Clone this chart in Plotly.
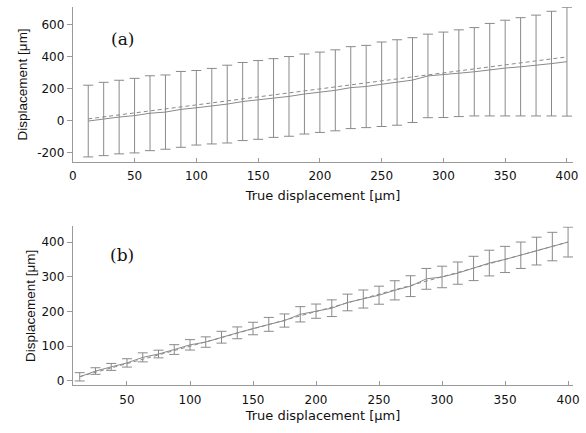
import plotly.graph_objects as go

true_disp = [12.5 * k for k in range(1, 33)]

a_mean = [-1, 12, 24, 33, 48, 55, 72, 82, 92, 105, 121, 131, 143, 153, 168, 179,
          191, 208, 215, 229, 240, 255, 281, 288, 298, 307, 320, 330, 338, 346, 358, 370]
a_sd = [224, 229, 230, 233, 234, 232, 237, 233, 236, 243, 244, 246, 246, 249, 250, 251,
        253, 256, 257, 264, 267, 265, 261, 267, 271, 276, 289, 299, 307, 315, 327, 340]

b_mean = [12, 28.6, 40.5, 52, 68, 77.6, 90.5, 104, 112, 126, 138.6, 151, 163, 174, 192, 201,
          209.5, 226, 236, 247, 261, 273, 294, 299.5, 310.5, 324, 339.5, 350, 362, 374, 387, 400]
b_sd = [12, 9.5, 10, 12, 13, 11, 14, 15, 15, 17, 17, 18, 20, 19, 22, 20.5,
        24, 24, 26, 26, 27.6, 30, 30, 31, 32, 35, 37, 37.6, 38, 40, 41, 43]

a_yticks = [-200, 0, 200, 400, 600]
a_ytext = ["-200", "0", "200", "400", "600"]
a_xticks = [0, 50, 100, 150, 200, 250, 300, 350, 400]
b_yticks = [0, 100, 200, 300, 400]
b_xticks = [50, 100, 150, 200, 250, 300, 350, 400]

GRAY = "#8a8a8a"
AXC = "#9a9a9a"
TXT = "#111111"
SANS_WIDE = "DejaVu Sans, Verdana, sans-serif"
SANS = "Liberation Sans, Arial, sans-serif"

fig = go.Figure()

# panel (a)
fig.add_trace(go.Scatter(x=true_disp, y=true_disp, mode="lines",
                         line=dict(color=GRAY, width=1, dash="4px,3px"),
                         xaxis="x", yaxis="y", showlegend=False, hoverinfo="skip"))
fig.add_trace(go.Scatter(x=true_disp, y=a_mean, mode="lines",
                         line=dict(color=GRAY, width=1),
                         error_y=dict(type="data", array=a_sd, visible=True,
                                      color=GRAY, thickness=1, width=5),
                         xaxis="x", yaxis="y", showlegend=False))

# panel (b)
fig.add_trace(go.Scatter(x=true_disp, y=true_disp, mode="lines",
                         line=dict(color=GRAY, width=1, dash="4px,3px"),
                         xaxis="x2", yaxis="y2", showlegend=False, hoverinfo="skip"))
fig.add_trace(go.Scatter(x=true_disp, y=b_mean, mode="lines",
                         line=dict(color=GRAY, width=1),
                         error_y=dict(type="data", array=b_sd, visible=True,
                                      color=GRAY, thickness=1, width=5),
                         xaxis="x2", yaxis="y2", showlegend=False))

W, H = 586, 433
xdom = [70 / W, 579 / W]
tickfont = dict(family=SANS_WIDE, size=12, color=TXT)
xax_common = dict(showline=True, linecolor=AXC, linewidth=1, showgrid=False,
                  zeroline=False, ticks="inside", ticklen=4, tickcolor=AXC, tickfont=tickfont)
yax_common = dict(showline=True, linecolor=AXC, linewidth=1, showgrid=False,
                  zeroline=False, ticks="outside", ticklen=5, tickcolor=AXC, tickfont=tickfont)
xtitle_font = dict(family=SANS_WIDE, size=13, color=TXT)
ytitle_font = dict(family=SANS, size=13.5, color=TXT)

fig.update_layout(
    width=W, height=H,
    margin=dict(l=0, r=0, t=0, b=0),
    paper_bgcolor="white", plot_bgcolor="white",
    xaxis=dict(domain=xdom, anchor="y", range=[0, 405], tickvals=a_xticks,
               title=dict(text="True displacement [μm]", font=xtitle_font, standoff=8),
               ticklabelstandoff=3, **xax_common),
    yaxis=dict(domain=[1 - 163 / H, 1 - 7 / H], anchor="x", range=[-256, 712],
               tickvals=a_yticks, ticktext=a_ytext,
               title=dict(text="Displacement [μm]", font=ytitle_font, standoff=6),
               **yax_common),
    xaxis2=dict(domain=xdom, anchor="y2", range=[7, 404], tickvals=b_xticks,
                title=dict(text="True displacement [μm]", font=xtitle_font, standoff=5),
                ticklabelstandoff=3, **xax_common),
    yaxis2=dict(domain=[1 - 388 / H, 1 - 228 / H], anchor="x2", range=[-12.5, 445],
                tickvals=b_yticks,
                title=dict(text="Displacement [μm]", font=ytitle_font, standoff=2),
                **yax_common),
    annotations=[
        dict(text="(a)", x=29, y=510, xref="x", yref="y", xanchor="left", yanchor="middle",
             showarrow=False, font=dict(family="DejaVu Serif, serif", size=17, color=TXT)),
        dict(text="(b)", x=35, y=362, xref="x2", yref="y2", xanchor="left", yanchor="middle",
             showarrow=False, font=dict(family="DejaVu Serif, serif", size=17, color=TXT)),
    ],
)

fig.write_html("out.html")
